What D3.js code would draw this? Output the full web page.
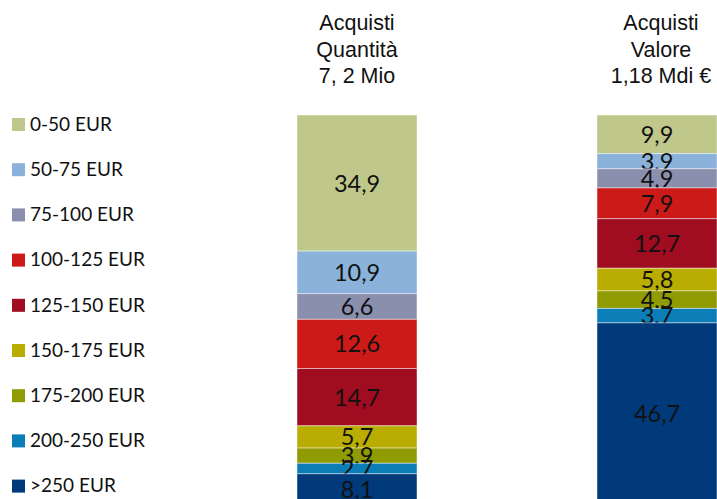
<!DOCTYPE html>
<html>
<head>
<meta charset="utf-8">
<script src="https://cdn.jsdelivr.net/npm/d3@7"></script>
<style>
  body { margin: 0; background: #fff; }
  svg { display: block; }
</style>
</head>
<body>
<div id="chart"></div>
<script>
// Price bands (top to bottom in each bar)
const bands = ['0-50 EUR', '50-75 EUR', '75-100 EUR', '100-125 EUR', '125-150 EUR',
               '150-175 EUR', '175-200 EUR', '200-250 EUR', '>250 EUR'];
const colors = ['#bfc88a', '#8ab2da', '#8a8fae', '#cb1a18', '#a00c20',
                '#b8ad00', '#8f9b00', '#0b7eb8', '#003a7a'];

// Column titles
const columns = ['quantita', 'valore'];
const titles = [
    ['Acquisti', 'Quantità', '7, 2 Mio'],
    ['Acquisti', 'Valore', '1,18 Mdi €']
];

// Shares in percent
const quantita = [34.9, 10.9, 6.6, 12.6, 14.7, 5.7, 3.9, 2.7, 8.1];
const valore = [9.9, 3.9, 4.9, 7.9, 12.7, 5.8, 4.5, 3.7, 46.7];

const width = 717, height = 499;

const svg = d3.select('#chart')
    .append('svg')
    .attr('width', width)
    .attr('height', height);

// Scales
const x = d3.scaleBand()
    .domain(columns)
    .range([297, 717])
    .paddingInner(0.6)
    .paddingOuter(0);

const y = d3.scaleLinear()
    .domain([0, 100])
    .range([115, 505]);

const color = d3.scaleOrdinal().domain(bands).range(colors);

// Build stack table
const table = columns.map((c, i) => {
    const row = {col: c};
    const vals = i === 0 ? quantita : valore;
    bands.forEach((b, j) => row[b] = vals[j]);
    return row;
});

const series = d3.stack().keys(bands)(table);

const groups = svg.selectAll('g.band')
    .data(series)
    .enter()
    .append('g')
    .attr('class', 'band')
    .attr('fill', d => color(d.key));

groups.selectAll('rect')
    .data(d => d)
    .enter()
    .append('rect')
    .attr('x', d => x(d.data.col))
    .attr('y', d => y(d[0]))
    .attr('width', x.bandwidth())
    .attr('height', d => y(d[1]) - y(d[0]))
    .attr('stroke', 'rgba(255,255,255,0.45)')
    .attr('stroke-width', 1);

// Value labels
groups.selectAll('text')
    .data(d => d)
    .enter()
    .append('text')
    .attr('x', d => x(d.data.col) + x.bandwidth() / 2)
    .attr('y', d => (y(d[0]) + y(d[1])) / 2)
    .attr('dy', '0.36em')
    .attr('text-anchor', 'middle')
    .style('font-family', 'Lato, "Open Sans", sans-serif')
    .style('font-size', '23.5px')
    .style('fill', '#111')
    .text(d => d3.format('.1f')(d[1] - d[0]).replace('.', ','));

// Column titles
columns.forEach((c, i) => {
    const cx = x(c) + x.bandwidth() / 2 + (i === 1 ? 4 : 0);
    const t = svg.append('text')
        .attr('x', cx)
        .attr('y', 30)
        .attr('text-anchor', 'middle')
        .style('font-family', '"Liberation Sans", Arial, sans-serif')
        .style('font-size', '21.5px')
        .style('fill', '#111');
    titles[i].forEach((line, k) => {
        t.append('tspan')
            .attr('x', cx)
            .attr('dy', k === 0 ? 0 : 26.5)
            .text(line);
    });
});

// Legend
const legend = svg.append('g')
    .selectAll('g')
    .data(bands)
    .enter()
    .append('g')
    .attr('transform', (d, i) => `translate(12, ${124 + i * 45.2})`);

legend.append('rect')
    .attr('x', 0)
    .attr('y', -6)
    .attr('width', 13)
    .attr('height', 13)
    .attr('fill', d => color(d));

legend.append('text')
    .attr('x', 18)
    .attr('y', 0)
    .attr('dy', '0.36em')
    .style('font-family', 'Lato, "Open Sans", sans-serif')
    .style('font-size', '19px')
    .style('fill', '#111')
    .text(d => d);
</script>
</body>
</html>
